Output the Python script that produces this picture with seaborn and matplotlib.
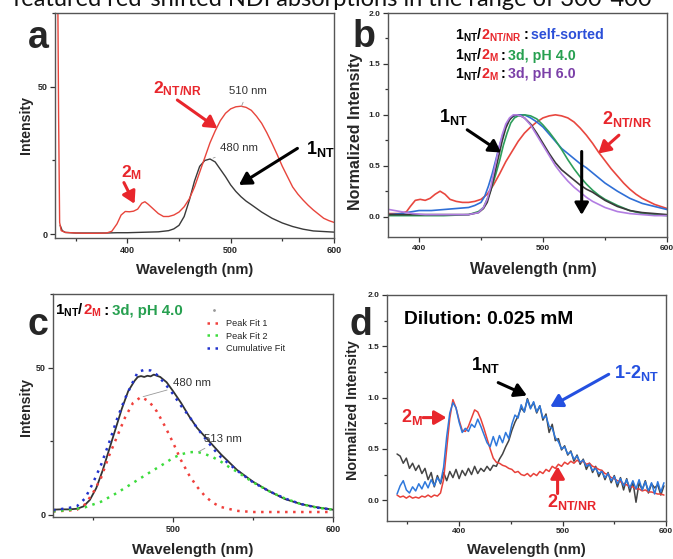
import numpy as np
import pandas as pd
import seaborn as sns
import matplotlib.pyplot as plt
import matplotlib.transforms as mtransforms
from matplotlib.ticker import MultipleLocator
from matplotlib.lines import Line2D

sns.set_style("ticks")
plt.rcParams['font.family'] = ['Liberation Sans', 'DejaVu Sans']
plt.rcParams['mathtext.fontset'] = 'custom'
plt.rcParams['mathtext.bf'] = 'Liberation Sans:bold'
plt.rcParams['mathtext.rm'] = 'Liberation Sans'

RED = '#e8262c'
BLACK = '#3a3a3a'

# ---- panel a : emission spectra ----
wl_a_red = [332, 333.5, 334.5, 336, 340, 350, 360, 370, 380, 385, 390, 394, 398, 402, 406, 410, 414, 417,
            420, 425, 430, 435, 440, 445, 450, 455, 460, 465, 470, 475, 480, 485, 490, 495, 500, 505,
            510, 515, 520, 525, 530, 535, 540, 545, 550, 555, 560, 565, 570, 575, 580, 585, 590, 595, 600]
int_a_red = [120, 40, 4, 1.2, 0.6, 0.4, 0.3, 0.3, 0.4, 1.0, 3.5, 6.5, 7.7, 7.6, 7.8, 8.5, 10.5, 11.0,
             10.2, 8.6, 7.0, 6.0, 6.0, 6.5, 7.5, 9.3, 12, 16, 21, 26, 31, 35, 38.5, 41, 42.5, 43.2,
             43.4, 43, 42, 40, 37.6, 34.4, 30.8, 27, 23, 19.5, 16, 13.6, 11.6, 9.8, 8.2, 6.8, 5.4, 4.6, 4.0]
wl_a_blk = [335, 337, 340, 350, 360, 370, 380, 390, 400, 410, 420, 430, 440, 445, 450, 455, 460, 465,
            470, 475, 480, 485, 490, 495, 500, 505, 510, 515, 520, 530, 540, 550, 560, 570, 580, 590, 600]
int_a_blk = [3, 1.2, 0.6, 0.4, 0.4, 0.4, 0.4, 0.5, 0.5, 0.6, 0.7, 0.8, 1.2, 1.8, 3, 6, 11.5, 18,
             23, 25, 25.5, 24.5, 22, 19.5, 16.7, 14.5, 12.7, 11.2, 10, 7.5, 5.4, 3.8, 2.6, 1.7, 1.1, 0.9, 0.7]

# ---- panel b : normalized spectra ----
wl_b_red = [376, 380, 385, 390, 393, 397, 401, 405, 409, 413, 417, 421, 425, 430, 435, 440, 445, 450,
            455, 460, 465, 470, 475, 480, 485, 490, 495, 500, 505, 510, 515, 520, 525, 530, 535, 540,
            545, 550, 555, 560, 565, 570, 575, 580, 585, 590, 595, 600]
nrm_b_red = [0.03, 0.03, 0.03, 0.05, 0.1, 0.16, 0.17, 0.16, 0.18, 0.22, 0.25, 0.22, 0.17, 0.15, 0.14,
             0.14, 0.15, 0.17, 0.22, 0.31, 0.42, 0.54, 0.64, 0.74, 0.82, 0.88, 0.93, 0.97, 0.99, 1.0,
             0.99, 0.97, 0.93, 0.87, 0.8, 0.72, 0.63, 0.55, 0.47, 0.4, 0.33, 0.27, 0.22, 0.18, 0.15,
             0.12, 0.1, 0.08]
wl_b_blue = [376, 385, 395, 400, 410, 420, 430, 440, 445, 450, 453, 456, 459, 462, 465, 468, 471, 474,
             477, 480, 485, 490, 495, 500, 505, 510, 515, 520, 525, 530, 535, 540, 545, 550, 555, 560,
             570, 580, 590, 600]
nrm_b_blue = [0.02, 0.03, 0.05, 0.06, 0.06, 0.07, 0.08, 0.09, 0.11, 0.14, 0.2, 0.3, 0.42, 0.56, 0.7,
              0.82, 0.92, 0.97, 0.99, 1.0, 1.0, 0.97, 0.93, 0.88, 0.81, 0.74, 0.67, 0.62, 0.57, 0.52,
              0.48, 0.43, 0.38, 0.33, 0.29, 0.25, 0.18, 0.13, 0.1, 0.07]
wl_b_green = [376, 400, 420, 440, 448, 452, 456, 459, 462, 465, 468, 471, 474, 477, 480, 485, 490, 495,
              500, 505, 510, 515, 520, 525, 530, 535, 540, 545, 550, 560, 570, 580, 590, 600]
nrm_b_green = [0.01, 0.01, 0.01, 0.02, 0.05, 0.09, 0.2, 0.3, 0.42, 0.55, 0.7, 0.82, 0.92, 0.97, 0.99,
               1.0, 0.99, 0.96, 0.9, 0.83, 0.75, 0.66, 0.56, 0.47, 0.39, 0.32, 0.26, 0.21, 0.17, 0.11,
               0.06, 0.03, 0.02, 0.01]
wl_b_blk = [376, 400, 420, 440, 448, 452, 455, 458, 461, 464, 467, 470, 473, 476, 479, 482, 485, 490,
            495, 500, 505, 510, 515, 520, 525, 530, 535, 540, 550, 560, 570, 580, 590, 600]
nrm_b_blk = [0.02, 0.02, 0.02, 0.02, 0.04, 0.08, 0.14, 0.26, 0.42, 0.58, 0.74, 0.87, 0.95, 0.99, 1.0,
             0.99, 0.97, 0.91, 0.82, 0.72, 0.62, 0.53, 0.46, 0.41, 0.36, 0.31, 0.27, 0.24, 0.16, 0.1,
             0.06, 0.04, 0.03, 0.02]
wl_b_purple = [376, 385, 395, 405, 420, 440, 448, 452, 455, 458, 461, 464, 467, 470, 473, 476, 479, 482,
               485, 490, 495, 500, 505, 510, 515, 520, 525, 530, 535, 540, 550, 560, 570, 580, 590, 600]
nrm_b_purple = [0.07, 0.05, 0.03, 0.02, 0.02, 0.02, 0.04, 0.09, 0.17, 0.3, 0.48, 0.65, 0.8, 0.91, 0.97,
                1.0, 1.0, 0.99, 0.97, 0.9, 0.8, 0.7, 0.6, 0.5, 0.42, 0.35, 0.29, 0.24, 0.19, 0.15, 0.09,
                0.05, 0.03, 0.02, 0.01, 0.01]

# ---- panel c : peak fitting ----
wl_c_data = [425, 430, 435, 440, 444, 448, 452, 456, 460, 464, 468, 472, 476, 478, 480, 482, 484, 486,
             488, 490, 492, 496, 500, 505, 510, 515, 520, 525, 530, 540, 550, 560, 570, 580, 590, 600]
int_c_data = [1.7, 1.8, 1.8, 2.0, 2.8, 5, 9, 15, 22, 29, 36, 42, 45.5, 46.8, 47.1, 46.8, 47.2, 47,
              47.6, 47.2, 46.8, 45, 42, 38, 33.5, 29.5, 26.5, 23.5, 20.5, 15.2, 11.2, 8, 5.3, 3.6, 2.5, 1.7]
wl_c_fit1 = [425, 435, 440, 445, 450, 455, 460, 465, 470, 475, 480, 485, 490, 495, 500, 505, 510, 515,
             520, 525, 530, 540, 550, 560, 580, 600]
int_c_fit1 = [1.1, 1.4, 1.7, 3.5, 7.4, 12.5, 20, 26.5, 33, 38, 40, 38.5, 35, 30, 24.5, 18.5, 13.5, 9.5,
              6.3, 4, 2.6, 1.3, 0.9, 0.9, 0.9, 0.9]
wl_c_fit2 = [425, 435, 445, 455, 465, 475, 485, 495, 500, 505, 510, 513, 516, 520, 525, 530, 535, 540,
             545, 550, 560, 570, 580, 590, 600]
int_c_fit2 = [1.1, 1.6, 2.5, 4.4, 7.4, 10.8, 14.2, 17.5, 19.3, 20.5, 21.2, 21.3, 21.2, 20.6, 19.5, 18,
              16.2, 14.6, 12.8, 11, 8, 5.5, 3.6, 2.4, 1.7]
wl_c_cum = [425, 435, 440, 445, 450, 455, 460, 465, 470, 475, 478, 482, 486, 490, 495, 500, 505, 510,
            515, 520, 525, 530, 540, 550, 560, 570, 580, 590, 600]
int_c_cum = [1.5, 2.3, 2.9, 5.5, 10.8, 16.9, 24.4, 32.5, 39.5, 45.2, 48.5, 49.2, 49, 47.5, 44.5, 41,
             37, 33.5, 29.5, 26, 22.5, 19.5, 15, 11, 8, 5.5, 3.6, 2.4, 1.7]

# ---- panel d : dilution 0.025 mM ----
wl_d = [340, 343, 346, 349, 352, 355, 358, 361, 364, 367, 370, 373, 376, 379, 382, 385, 388, 391, 394,
        397, 400, 403, 406, 409, 412, 415, 418, 421, 424, 427, 430, 433, 436, 439, 442, 445, 448, 451,
        454, 457, 460, 463, 466, 469, 472, 475, 478, 481, 484, 487, 490, 493, 496, 499, 502, 505, 508,
        511, 514, 517, 520, 523, 526, 529, 532, 535, 538, 541, 544, 547, 550, 553, 556, 559, 562, 565,
        568, 571, 574, 577, 580, 583, 586, 589, 592, 595, 598]
nrm_d_blue = [0.06, 0.14, 0.19, 0.10, 0.07, 0.13, 0.09, 0.16, 0.11, 0.18, 0.12, 0.20, 0.14, 0.22, 0.17,
              0.32, 0.62, 0.85, 0.95, 0.90, 0.76, 0.66, 0.70, 0.67, 0.74, 0.71, 0.79, 0.72, 0.64, 0.56,
              0.52, 0.62, 0.53, 0.63, 0.56, 0.66, 0.60, 0.74, 0.83, 0.80, 0.93, 0.86, 0.98, 0.89, 0.96,
              0.86, 0.92, 0.80, 0.82, 0.72, 0.70, 0.61, 0.57, 0.50, 0.52, 0.45, 0.47, 0.40, 0.43, 0.37,
              0.39, 0.33, 0.35, 0.29, 0.31, 0.26, 0.28, 0.22, 0.26, 0.19, 0.23, 0.16, 0.21, 0.14, 0.20,
              0.12, 0.19, 0.11, 0.20, 0.10, 0.18, 0.09, 0.17, 0.06, 0.18, 0.08, 0.17]
nrm_d_blk = [0.45, 0.43, 0.36, 0.41, 0.31, 0.36, 0.29, 0.34, 0.26, 0.31, 0.20, 0.27, 0.13, 0.24, 0.16,
             0.27, 0.19, 0.28, 0.22, 0.30, 0.21, 0.29, 0.24, 0.31, 0.25, 0.33, 0.26, 0.31, 0.28, 0.33,
             0.29, 0.34, 0.33, 0.40, 0.45, 0.52, 0.58, 0.68, 0.76, 0.82, 0.90, 0.86, 0.99, 0.90, 0.95,
             0.85, 0.92, 0.78, 0.84, 0.66, 0.74, 0.58, 0.60, 0.49, 0.53, 0.44, 0.48, 0.38, 0.44, 0.35,
             0.40, 0.30, 0.36, 0.27, 0.33, 0.23, 0.29, 0.20, 0.27, 0.17, 0.24, 0.13, 0.22, 0.10, 0.21,
             0.08, 0.18, -0.02, 0.17, 0.10, 0.19, 0.07, 0.16, 0.12, 0.15, 0.05, 0.14]
nrm_d_red = [0.05, 0.03, 0.04, 0.02, 0.04, 0.02, 0.03, 0.02, 0.04, 0.03, 0.05, 0.03, 0.05, 0.04, 0.07,
             0.20, 0.50, 0.80, 0.98, 0.90, 0.78, 0.68, 0.67, 0.72, 0.80, 0.88, 0.86, 0.79, 0.70, 0.60,
             0.50, 0.41, 0.37, 0.36, 0.34, 0.33, 0.31, 0.30, 0.27, 0.28, 0.25, 0.24, 0.26, 0.23, 0.26,
             0.24, 0.28, 0.26, 0.30, 0.28, 0.33, 0.31, 0.35, 0.33, 0.37, 0.35, 0.38, 0.36, 0.39, 0.37,
             0.38, 0.35, 0.36, 0.33, 0.32, 0.30, 0.29, 0.26, 0.25, 0.22, 0.21, 0.19, 0.18, 0.16, 0.15,
             0.13, 0.13, 0.11, 0.11, 0.09, 0.10, 0.08, 0.08, 0.07, 0.06, 0.06, 0.05]

fig = plt.figure(figsize=(6.73, 5.59), dpi=100)
ax_a = fig.add_axes([0.0817, 0.5742, 0.4146, 0.4025])
ax_b = fig.add_axes([0.5765, 0.5760, 0.4146, 0.4007])
ax_c = fig.add_axes([0.0788, 0.0751, 0.4160, 0.3990])
ax_d = fig.add_axes([0.5746, 0.0685, 0.4150, 0.4038])


def style_axes(ax, xlim, ylim, xmaj, xmin, ymaj, ymin, labsize):
    ax.set_xlim(xlim)
    ax.set_ylim(ylim)
    ax.xaxis.set_major_locator(MultipleLocator(xmaj))
    ax.xaxis.set_minor_locator(MultipleLocator(xmin))
    ax.yaxis.set_major_locator(MultipleLocator(ymaj))
    ax.yaxis.set_minor_locator(MultipleLocator(ymin))
    for sp in ax.spines.values():
        sp.set_visible(True)
        sp.set_color('#555555')
        sp.set_linewidth(1.0)
    ax.tick_params(which='both', direction='out', top=False, right=False, color='#333333', width=0.9)
    ax.tick_params(which='major', length=3.5, labelsize=labsize, pad=2)
    ax.tick_params(which='minor', length=2)
    plt.setp(ax.get_xticklabels() + ax.get_yticklabels(), fontweight='bold')


def arrow(ax, tail, head, color, lw=2.2):
    ax.annotate('', xy=head, xytext=tail,
                arrowprops=dict(arrowstyle='-|>,head_length=0.55,head_width=0.32', color=color,
                                lw=lw, mutation_scale=13, shrinkA=0, shrinkB=0))


def rich_text(ax, x, y, parts, size, kern=1.5):
    renderer = fig.canvas.get_renderer()
    tr = ax.transAxes
    for s, c in parts:
        t = ax.text(x, y, s, color=c, fontsize=size, fontweight='bold', va='baseline', ha='left',
                    transform=tr)
        ext = t.get_window_extent(renderer)
        tr = mtransforms.offset_copy(t.get_transform(), x=ext.width - kern, units='dots')


# panel a
sns.lineplot(x=wl_a_blk, y=int_a_blk, ax=ax_a, color=BLACK, linewidth=1.0, estimator=None)
sns.lineplot(x=wl_a_red, y=int_a_red, ax=ax_a, color='#e8453c', linewidth=1.0, estimator=None)
style_axes(ax_a, (330, 600), (-1.3, 75), 100, 50, 50, 25, 6.5)
ax_a.set_xlabel('Wavelength (nm)', fontsize=10.5, fontweight='bold')
ax_a.set_ylabel('Intensity', fontsize=10.2, fontweight='bold')
ax_a.xaxis.set_label_coords(0.502, -0.111)
ax_a.yaxis.set_label_coords(-0.078, 0.502)
ax_a.text(425, 47.7, r'$\mathbf{2_{NT/NR}}$', color=RED, fontsize=12.5, va='baseline')
ax_a.text(394, 19.2, r'$\mathbf{2_{M}}$', color=RED, fontsize=12.5, va='baseline')
ax_a.text(572.5, 27.1, r'$\mathbf{1_{NT}}$', color='black', fontsize=13, va='baseline')
ax_a.annotate('510 nm', xy=(510.5, 43.4), xytext=(498, 47.4), fontsize=8.2, color='#333333',
              va='baseline', arrowprops=dict(arrowstyle='-', color='#999999', lw=0.6,
                                             shrinkA=2, shrinkB=0))
ax_a.annotate('480 nm', xy=(483, 25.8), xytext=(490, 28.2), fontsize=8.2, color='#333333',
              va='baseline', arrowprops=dict(arrowstyle='-', color='#999999', lw=0.6,
                                             shrinkA=2, shrinkB=0))
arrow(ax_a, (448.4, 45.5), (487.1, 35.9), RED)
arrow(ax_a, (396.7, 17.5), (407, 10.3), RED)
arrow(ax_a, (564.6, 29.1), (508, 16.7), 'black')

# panel b
sns.lineplot(x=wl_b_red, y=nrm_b_red, ax=ax_b, color='#e8473f', linewidth=1.2, estimator=None)
sns.lineplot(x=wl_b_blue, y=nrm_b_blue, ax=ax_b, color='#2f6fd6', linewidth=1.2, estimator=None)
sns.lineplot(x=wl_b_green, y=nrm_b_green, ax=ax_b, color='#2e9e5b', linewidth=1.2, estimator=None)
sns.lineplot(x=wl_b_blk, y=nrm_b_blk, ax=ax_b, color=BLACK, linewidth=1.2, estimator=None)
sns.lineplot(x=wl_b_purple, y=nrm_b_purple, ax=ax_b, color='#b27de2', linewidth=1.2, estimator=None)
style_axes(ax_b, (375, 600), (-0.2, 2.0), 100, 50, 0.5, 0.25, 6.0)
ax_b.yaxis.set_major_formatter(plt.FormatStrFormatter('%.1f'))
plt.setp(ax_b.get_yticklabels(), fontweight='bold')
ax_b.set_xlabel('Wavelength (nm)', fontsize=11.3, fontweight='bold')
ax_b.set_ylabel('Normalized Intensity', fontsize=11.5, fontweight='bold')
ax_b.xaxis.set_label_coords(0.52, -0.11)
ax_b.yaxis.set_label_coords(-0.09, 0.473)
ax_b.text(416, 0.934, r'$\mathbf{1_{NT}}$', color='black', fontsize=13, va='baseline')
ax_b.text(547.3, 0.91, r'$\mathbf{2_{NT/NR}}$', color=RED, fontsize=13, va='baseline')
arrow(ax_b, (438.9, 0.853), (466.2, 0.63), 'black')
arrow(ax_b, (561.2, 0.8), (544.6, 0.62), RED)
arrow(ax_b, (531.2, 0.64), (531.2, 0.017), 'black')
rich_text(ax_b, 0.24, 0.883, [(r'$\mathbf{1_{NT}}$/', 'black'), (r'$\mathbf{2_{NT/NR}}$', RED),
                              (' :', 'black'), (' self-sorted', '#2b4fd8')], 10.3)
rich_text(ax_b, 0.24, 0.79, [(r'$\mathbf{1_{NT}}$/', 'black'), (r'$\mathbf{2_{M}}$', RED),
                             (' :', 'black'), (' 3d, pH 4.0', '#27a050')], 10.3)
rich_text(ax_b, 0.24, 0.708, [(r'$\mathbf{1_{NT}}$/', 'black'), (r'$\mathbf{2_{M}}$', RED),
                              (' :', 'black'), (' 3d, pH 6.0', '#7b40a8')], 10.3)

# panel c
dot = (0, (1, 2.2))
sns.lineplot(x=wl_c_data, y=int_c_data, ax=ax_c, color='#333333', linewidth=1.3, estimator=None)
sns.lineplot(x=wl_c_fit1, y=int_c_fit1, ax=ax_c, color='#f0403c', linewidth=1.8, linestyle=dot,
             estimator=None)
sns.lineplot(x=wl_c_fit2, y=int_c_fit2, ax=ax_c, color='#3ddc3d', linewidth=1.8, linestyle=dot,
             estimator=None)
sns.lineplot(x=wl_c_cum, y=int_c_cum, ax=ax_c, color='#2233cc', linewidth=1.8, linestyle=dot,
             estimator=None)
style_axes(ax_c, (425, 600), (-0.8, 75), 100, 50, 50, 25, 6.5)
ax_c.set_xlabel('Wavelength (nm)', fontsize=10.9, fontweight='bold')
ax_c.set_ylabel('Intensity', fontsize=10.2, fontweight='bold')
ax_c.xaxis.set_label_coords(0.5, -0.118)
ax_c.yaxis.set_label_coords(-0.07, 0.493)
ax_c.annotate('480 nm', xy=(481.3, 40.1), xytext=(500, 43.7), fontsize=8.2, color='#333333',
              va='baseline', arrowprops=dict(arrowstyle='-', color='#999999', lw=0.6,
                                             shrinkA=2, shrinkB=0))
ax_c.annotate('513 nm', xy=(516, 21.4), xytext=(519.2, 24.8), fontsize=8.2, color='#333333',
              va='baseline', arrowprops=dict(arrowstyle='-', color='#999999', lw=0.6,
                                             shrinkA=2, shrinkB=0))
handles = [Line2D([], [], color='#999999', marker='.', markersize=2, linestyle='none'),
           Line2D([], [], color='#f0403c', linewidth=1.8, linestyle=dot),
           Line2D([], [], color='#3ddc3d', linewidth=1.8, linestyle=dot),
           Line2D([], [], color='#2233cc', linewidth=1.8, linestyle=dot)]
ax_c.legend(handles=handles, labels=[' ', 'Peak Fit 1', 'Peak Fit 2', 'Cumulative Fit'],
            loc='upper left', bbox_to_anchor=(0.55, 0.945), frameon=False, fontsize=6.6,
            handlelength=1.6, handletextpad=0.5, labelspacing=0.4, borderpad=0, borderaxespad=0)
rich_text(ax_c, 0.008, 0.906, [(r'$\mathbf{1_{NT}}$/', 'black'), (r'$\mathbf{2_{M}}$', RED),
                               (' :', 'black'), (' 3d, pH 4.0', '#27a050')], 10.8)

# panel d
sns.lineplot(x=wl_d, y=nrm_d_blk, ax=ax_d, color='#444444', linewidth=1.1, estimator=None)
sns.lineplot(x=wl_d, y=nrm_d_red, ax=ax_d, color='#e8413a', linewidth=1.1, estimator=None)
sns.lineplot(x=wl_d, y=nrm_d_blue, ax=ax_d, color='#2e78dc', linewidth=1.1, estimator=None)
style_axes(ax_d, (330, 600), (-0.2, 2.0), 100, 50, 0.5, 0.25, 6.0)
ax_d.yaxis.set_major_formatter(plt.FormatStrFormatter('%.1f'))
plt.setp(ax_d.get_yticklabels(), fontweight='bold')
ax_d.set_xlabel('Wavelength (nm)', fontsize=10.7, fontweight='bold')
ax_d.set_ylabel('Normalized Intensity', fontsize=10.3, fontweight='bold')
ax_d.xaxis.set_label_coords(0.5, -0.1)
ax_d.yaxis.set_label_coords(-0.096, 0.49)
ax_d.text(346.8, 1.72, 'Dilution: 0.025 mM', color='black', fontsize=13.8, fontweight='bold',
          va='baseline')
ax_d.text(411.3, 1.27, r'$\mathbf{1_{NT}}$', color='black', fontsize=13, va='baseline')
ax_d.text(550, 1.19, r'1-$\mathbf{2_{NT}}$', color='#2450e0', fontsize=13, fontweight='bold',
          va='baseline')
ax_d.text(343.6, 0.76, r'$\mathbf{2_{M}}$', color=RED, fontsize=13, va='baseline')
ax_d.text(484.6, -0.065, r'$\mathbf{2_{NT/NR}}$', color=RED, fontsize=13, va='baseline')
arrow(ax_d, (437.8, 1.146), (465.5, 1.02), 'black')
arrow(ax_d, (544.6, 1.227), (488.1, 0.91), '#2450e0')
arrow(ax_d, (365.2, 0.805), (387.8, 0.805), RED)
arrow(ax_d, (495.2, 0.065), (495.2, 0.33), RED)

# panel letters
for lx, ly, letter in [(0.0416, 0.914, 'a'), (0.5245, 0.916, 'b'), (0.0416, 0.4007, 'c'),
                       (0.52, 0.4007, 'd')]:
    fig.text(lx, ly, letter, fontsize=27, fontweight='bold', va='baseline', ha='left')

# sentence from the page above the figure, cropped at the top edge as in the source
fig.text(13 / 673, 1 - 6 / 559, 'featured red-shifted NDI absorptions in the range of 300-400',
         fontsize=17, family='Lato', va='baseline', ha='left', color='#111111')

fig.savefig('out.png', dpi=100)
